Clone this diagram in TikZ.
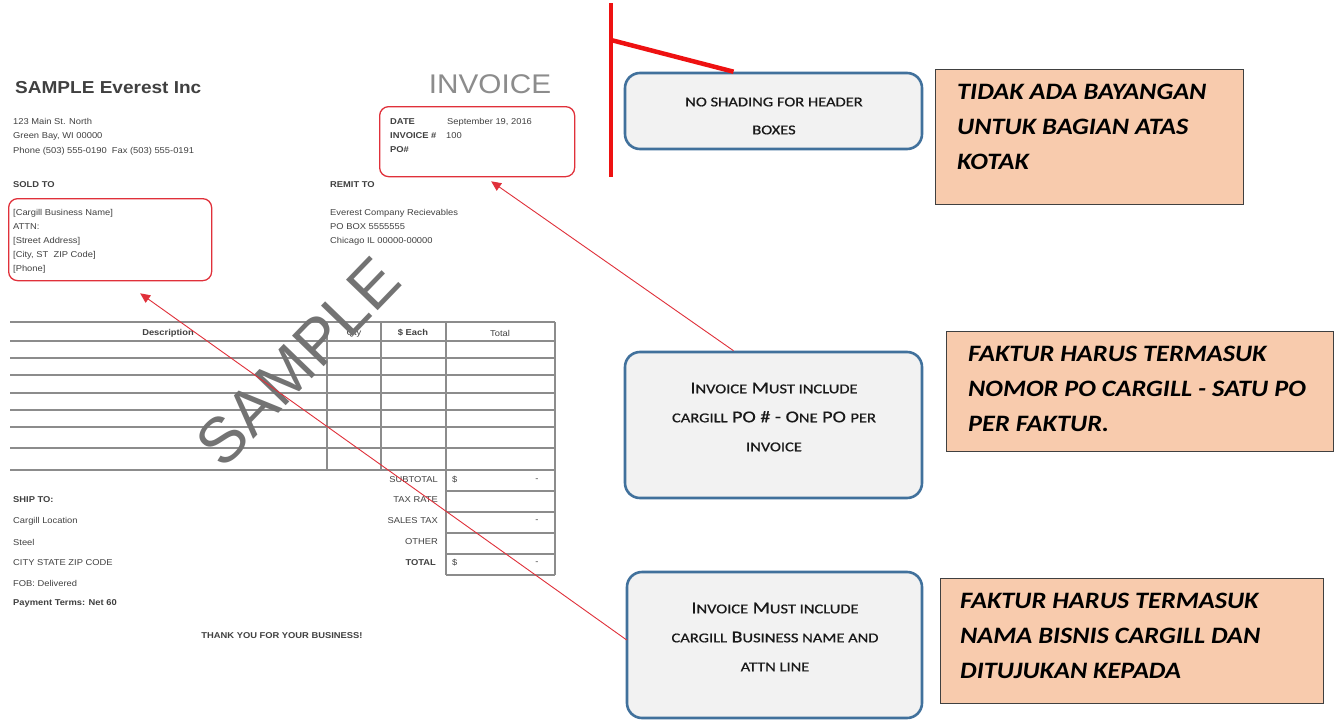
\documentclass[tikz,border=0pt]{standalone}
\usepackage{fontspec}
\setmainfont{Liberation Sans}
\newfontfamily\invf[FakeStretch=1.1]{Liberation Sans}
\newfontfamily\calloutf[FakeStretch=1.22,FakeBold=0.7]{Carlito}
\newfontfamily\notef[FakeStretch=1.12]{Carlito}
\usetikzlibrary{arrows.meta}
\definecolor{blueb}{HTML}{41719C}
\definecolor{grayf}{HTML}{F2F2F2}
\definecolor{peach}{HTML}{F8CBAD}
\definecolor{redl}{HTML}{E0303A}
\definecolor{redthick}{HTML}{EE1111}
\definecolor{invtext}{HTML}{404040}
\definecolor{tline}{HTML}{8C8C8C}
\newcommand\smc[1]{{\fontsize{13.5}{13.5}\selectfont #1}}
\tikzset{
  inv/.style={font=\invf\fontsize{8.5}{10}\selectfont, text=invtext, anchor=west, inner sep=0pt},
  invb/.style={font=\invf\bfseries\fontsize{8.5}{10}\selectfont, text=invtext, anchor=west, inner sep=0pt},
  invr/.style={font=\invf\fontsize{8.5}{10}\selectfont, text=invtext, anchor=east, inner sep=0pt},
  invc/.style={font=\invf\fontsize{8.5}{10}\selectfont, text=invtext, anchor=center, inner sep=0pt},
  redbox/.style={draw=redl, line width=1.3pt, rounded corners=9pt, inner sep=0pt},
  callbox/.style={draw=blueb, fill=grayf, line width=2.6pt, rounded corners=15pt, inner sep=0pt},
  calltext/.style={align=center, font=\calloutf\fontsize{16.5}{29}\selectfont, text=black!90, inner sep=0pt},
  notebox/.style={draw=black!75, fill=peach, line width=1.1pt, inner sep=0pt, anchor=north west},
  notetext/.style={align=left, font=\notef\bfseries\itshape\fontsize{23.5}{35}\selectfont, anchor=north west, inner sep=0pt},
  tl/.style={draw=tline, line width=1.1pt},
  thinred/.style={draw=redl, line width=0.9pt, -{Triangle[length=10pt,width=9pt]}},
  thickred/.style={draw=redthick, line width=4.5pt}
}
\begin{document}
\begin{tikzpicture}[x=1pt,y=-1pt]
\useasboundingbox (0,0) rectangle (1339,720);
\fill[white] (0,0) rectangle (1339,720);

% ---------- invoice header ----------
\node[font=\invf\bfseries\fontsize{17.3}{17.3}\selectfont, text=invtext, anchor=west, inner sep=0pt] (company) at (15,88) {SAMPLE Everest Inc};
\node[inv] (addr1) at (13,121) {123 Main St. North};
\node[inv] (addr2) at (13,136) {Green Bay, WI 00000};
\node[inv] (addr3) at (13,151) {Phone (503) 555-0190\ \ Fax (503) 555-0191};
\node[font=\invf\fontsize{27}{27}\selectfont, text=black!45, anchor=center, inner sep=0pt] (invtitle) at (490,84) {INVOICE};

\node[redbox, minimum width=195pt, minimum height=70pt, anchor=north west] (datebox) at (379,106) {};
\node[invb] (datel) at (390,122) {DATE};
\node[inv] (dateval) at (447,122) {September 19, 2016};
\node[invb] (invnol) at (390,136) {INVOICE \#};
\node[inv] (invno) at (446,136) {100};
\node[invb] (pol) at (390,150) {PO\#};

\node[invb] (soldto) at (13,185) {SOLD TO};
\node[invb] (remitto) at (330,185) {REMIT TO};

\node[redbox, minimum width=203pt, minimum height=82pt, anchor=north west] (soldbox) at (8,198) {};
\node[inv] (s1) at (13,213) {[Cargill Business Name]};
\node[inv] (s2) at (13,227) {ATTN:};
\node[inv] (s3) at (13,241) {[Street Address]};
\node[inv] (s4) at (13,255) {[City, ST\ \ ZIP Code]};
\node[inv] (s5) at (13,269) {[Phone]};

\node[inv] (r1) at (330,213) {Everest Company Recievables};
\node[inv] (r2) at (330,227) {PO BOX 5555555};
\node[inv] (r3) at (330,241) {Chicago IL 00000-00000};

% ---------- table ----------
\foreach \yy in {322,341,358,375,393,410,427,448,470} {
  \draw[tl] (10,\yy) -- (555,\yy);
}
\draw[tl] (327,322) -- (327,470);
\draw[tl] (381,322) -- (381,470);
\draw[tl] (446,322) -- (446,575);
\draw[tl] (555,322) -- (555,575);
\foreach \yy in {491,512,533,554,575} {
  \draw[tl] (446,\yy) -- (555,\yy);
}
\node[font=\invf\bfseries\fontsize{8.5}{10}\selectfont, text=invtext, inner sep=0pt] (hdesc) at (168,333) {Description};
\node[invc] (hqty) at (354,333) {Qty};
\node[font=\invf\bfseries\fontsize{8.5}{10}\selectfont, text=invtext, inner sep=0pt] (heach) at (413,333) {\$ Each};
\node[invc] (htot) at (500,333) {Total};

\node[invr] (subl) at (438,480) {SUBTOTAL};
\node[invr] (taxl) at (438,500) {TAX RATE};
\node[invr] (salel) at (438,521) {SALES TAX};
\node[invr] (othl) at (438,542) {OTHER};
\node[font=\invf\bfseries\fontsize{8.5}{10}\selectfont, text=invtext, anchor=east, inner sep=0pt] (totl) at (436,563) {TOTAL};
\node[inv] (subd) at (452,480) {\$};
\node[inv] (totd) at (452,563) {\$};
\node[invc] (subm) at (537,480) {-};
\node[invc] (salem) at (537,521) {-};
\node[invc] (totm) at (537,563) {-};

% ---------- ship to ----------
\node[invb] (shipto) at (13,500) {SHIP TO:};
\node[inv] (sh1) at (13,521) {Cargill Location};
\node[inv] (sh2) at (13,542) {Steel};
\node[inv] (sh3) at (13,563) {CITY STATE ZIP CODE};
\node[inv] (sh4) at (13,583) {FOB: Delivered};
\node[invb] (sh5) at (13,603) {Payment Terms: Net 60};
\node[font=\invf\bfseries\fontsize{8.5}{10}\selectfont, text=invtext, anchor=center, inner sep=0pt] (thanks) at (282,636) {THANK YOU FOR YOUR BUSINESS!};

% ---------- watermark ----------
\node[rotate=46, font=\fontsize{64}{64}\selectfont, text=black!55, inner sep=0pt] (wm) at (298,362) {SAMPLE};

% ---------- callouts ----------
\node[callbox, minimum width=297pt, minimum height=76pt] (c1) at (773.5,111) {};
\node[calltext, font=\calloutf\fontsize{13.5}{28}\selectfont] (c1t) at (774,116) {NO SHADING FOR HEADER\\BOXES};

\node[callbox, minimum width=297pt, minimum height=146pt] (c2) at (773.5,425) {};
\node[calltext] (c2t) at (774,417) {I\smc{NVOICE} M\smc{UST INCLUDE}\\\smc{CARGILL} PO \# - O\smc{NE} PO \smc{PER}\\\smc{INVOICE}};

\node[callbox, minimum width=295pt, minimum height=146pt] (c3) at (774.5,645) {};
\node[calltext] (c3t) at (775,637) {I\smc{NVOICE} M\smc{UST INCLUDE}\\\smc{CARGILL} B\smc{USINESS NAME AND}\\\smc{ATTN LINE}};

% ---------- notes ----------
\node[notebox, minimum width=308pt, minimum height=135pt] (n1) at (935,69) {};
\node[notetext] (n1t) at (957,84) {TIDAK ADA BAYANGAN\\UNTUK BAGIAN ATAS\\KOTAK};
\node[notebox, minimum width=387pt, minimum height=120pt] (n2) at (946,331) {};
\node[notetext] (n2t) at (968,346) {FAKTUR HARUS TERMASUK\\NOMOR PO CARGILL - SATU PO\\PER FAKTUR.};
\node[notebox, minimum width=383pt, minimum height=125pt] (n3) at (940,578) {};
\node[notetext] (n3t) at (960,593) {FAKTUR HARUS TERMASUK\\NAMA BISNIS CARGILL DAN\\DITUJUKAN KEPADA};

% ---------- connectors ----------
\coordinate (bartop) at (611,3);
\coordinate (barbot) at (611,177);
\coordinate (barmid) at (611,40);
\draw[thickred] (bartop) -- (barbot);
\draw[thickred] (barmid) -- ([xshift=-40pt]c1.north);
\draw[thinred] ([xshift=-40pt]c2.north) -- ([xshift=14pt,yshift=-4pt]datebox.south);
\draw[thinred] ([xshift=1pt,yshift=5pt]c3.west) -- ([xshift=30pt,yshift=-12pt]soldbox.south);
\end{tikzpicture}
\end{document}
